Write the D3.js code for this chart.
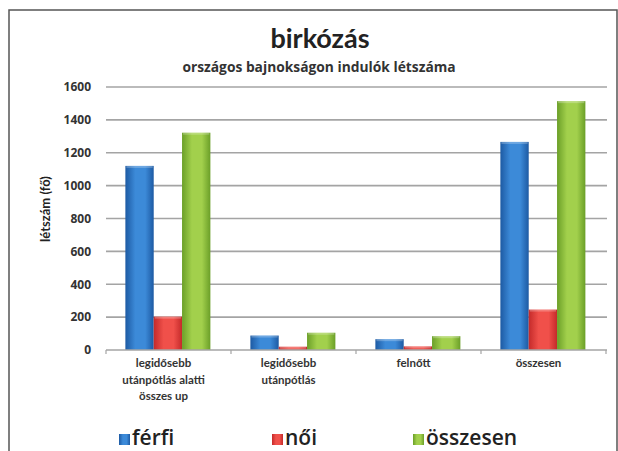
<!DOCTYPE html>
<html>
<head>
<meta charset="utf-8">
<script src="https://cdn.jsdelivr.net/npm/d3@7"></script>
<style>
  html, body { margin: 0; padding: 0; background: #fff; }
  svg { display: block; font-family: Lato, "Open Sans", sans-serif; }
</style>
</head>
<body>
<svg id="chart" width="618" height="451"></svg>
<script>
// Wrestling: national championship entrants by age group and sex
const categories = [
  ["legidősebb", "utánpótlás alatti", "összes up"],
  ["legidősebb", "utánpótlás"],
  ["felnőtt"],
  ["összesen"]
];
const seriesNames = ["férfi", "női", "összesen"];
const ferfi    = [1120, 88, 66, 1266];
const noi      = [203, 20, 22, 246];
const osszesen = [1322, 105, 84, 1514];
const yTicks = [0, 200, 400, 600, 800, 1000, 1200, 1400, 1600];

const seriesValues = [ferfi, noi, osszesen];
const palette = [
  { edge: "#1d5aa3", mid: "#3c8ad8" },
  { edge: "#c42a2a", mid: "#f0504a" },
  { edge: "#6b9f28", mid: "#a2d04c" }
];

const svg = d3.select("#chart");
const margin = { left: 106, right: 12, top: 87, bottom: 101 };
const W = 618, H = 451;

// Gradients giving the bars a rounded, cylindrical look
const defs = svg.append("defs");
palette.forEach((c, i) => {
  const g = defs.append("linearGradient").attr("id", "grad" + i)
    .attr("x1", "0%").attr("x2", "100%").attr("y1", "0%").attr("y2", "0%");
  g.append("stop").attr("offset", "0%").attr("stop-color", c.edge);
  g.append("stop").attr("offset", "35%").attr("stop-color", c.mid);
  g.append("stop").attr("offset", "70%").attr("stop-color", c.mid);
  g.append("stop").attr("offset", "100%").attr("stop-color", c.edge);
});

// Outer frame
svg.append("path")
  .attr("d", "M9,451 L9,10 L617,10 L617,451")
  .attr("fill", "none").attr("stroke", "#555").attr("stroke-width", 1.5);

const x0 = d3.scaleBand()
  .domain(d3.range(categories.length))
  .range([margin.left, W - margin.right])
  .paddingInner(0).paddingOuter(0);
const x1 = d3.scaleBand()
  .domain(d3.range(seriesNames.length))
  .range([x0.bandwidth() * 0.155, x0.bandwidth() * 0.835])
  .padding(0);
const y = d3.scaleLinear().domain([0, 1600]).range([H - margin.bottom, margin.top]);

// Gridlines
svg.append("g")
  .selectAll("line")
  .data(yTicks.filter(t => t > 0))
  .join("line")
  .attr("x1", margin.left).attr("x2", W - margin.right + 1)
  .attr("y1", d => y(d)).attr("y2", d => y(d))
  .attr("stroke", "#a4a4a4").attr("stroke-width", 1.6);

// Y axis labels
const yAxis = d3.axisLeft(y).tickValues(yTicks).tickFormat(d3.format("d"))
  .tickSize(0).tickPadding(15);
const yg = svg.append("g").attr("transform", `translate(${margin.left},0)`).call(yAxis);
yg.select(".domain").remove();
yg.selectAll("text")
  .attr("font-family", "'Open Sans', sans-serif")
  .attr("font-size", 12).attr("font-weight", "bold").attr("fill", "#333");

// Bars
const groups = svg.append("g").selectAll("g")
  .data(categories.map((c, i) => i))
  .join("g")
  .attr("transform", i => `translate(${x0(i)},0)`);
groups.selectAll("rect")
  .data(i => seriesValues.map((vals, s) => ({ s, v: vals[i] })))
  .join("rect")
  .attr("x", d => x1(d.s))
  .attr("width", x1.bandwidth())
  .attr("y", d => y(d.v))
  .attr("height", d => y(0) - y(d.v))
  .attr("fill", d => `url(#grad${d.s})`);
// light cap on each bar top
groups.selectAll("rect.cap")
  .data(i => seriesValues.map((vals, s) => ({ s, v: vals[i] })))
  .join("rect").attr("class", "cap")
  .attr("x", d => x1(d.s) + 1)
  .attr("width", x1.bandwidth() - 2)
  .attr("y", d => y(d.v))
  .attr("height", 2)
  .attr("fill", "#fff").attr("opacity", 0.25);

// X axis baseline and ticks
const xg = svg.append("g");
xg.append("line")
  .attr("x1", margin.left).attr("x2", W - margin.right + 1)
  .attr("y1", y(0)).attr("y2", y(0))
  .attr("stroke", "#a4a4a4").attr("stroke-width", 1.6);
xg.selectAll("line.tick")
  .data(d3.range(categories.length + 1))
  .join("line").attr("class", "tick")
  .attr("x1", i => x0.range()[0] + i * x0.bandwidth())
  .attr("x2", i => x0.range()[0] + i * x0.bandwidth())
  .attr("y1", y(0)).attr("y2", y(0) + 4)
  .attr("stroke", "#a4a4a4").attr("stroke-width", 1.2);

// Category labels
const catText = svg.append("g").selectAll("text")
  .data(categories)
  .join("text")
  .attr("text-anchor", "middle")
  .attr("font-size", 11.5).attr("font-weight", "bold").attr("fill", "#333")
  .attr("transform", (c, i) => `translate(${x0(i) + x0.bandwidth() / 2 - 5},${y(0) + 17})`);
catText.selectAll("tspan")
  .data(c => c)
  .join("tspan")
  .attr("x", 0)
  .attr("dy", (d, j) => j === 0 ? 0 : 16.5)
  .text(d => d);

// Titles
svg.append("text")
  .attr("x", 320).attr("y", 48)
  .attr("text-anchor", "middle")
  .attr("font-size", 27).attr("font-weight", "bold").attr("fill", "#222")
  .text("birkózás");
svg.append("text")
  .attr("x", 319).attr("y", 72)
  .attr("text-anchor", "middle")
  .attr("font-family", "'Open Sans', sans-serif")
  .attr("font-size", 13.8).attr("font-weight", "bold").attr("fill", "#333")
  .text("országos bajnokságon indulók létszáma");

// Y axis title
svg.append("text")
  .attr("transform", "translate(50,209) rotate(-90)")
  .attr("text-anchor", "middle")
  .attr("font-size", 13).attr("font-weight", "bold").attr("fill", "#222")
  .text("létszám (fő)");

// Legend
const legendX = [119, 272, 413];
const leg = svg.append("g").selectAll("g")
  .data(seriesNames)
  .join("g")
  .attr("transform", (d, i) => `translate(${legendX[i]},434)`);
leg.append("rect")
  .attr("width", 11).attr("height", 11)
  .attr("fill", (d, i) => `url(#grad${i})`);
leg.append("text")
  .attr("x", 13).attr("y", 11)
  .attr("font-family", "'Open Sans', sans-serif")
  .attr("font-size", 21).attr("font-weight", 600).attr("fill", "#222")
  .text(d => d);
</script>
</body>
</html>
